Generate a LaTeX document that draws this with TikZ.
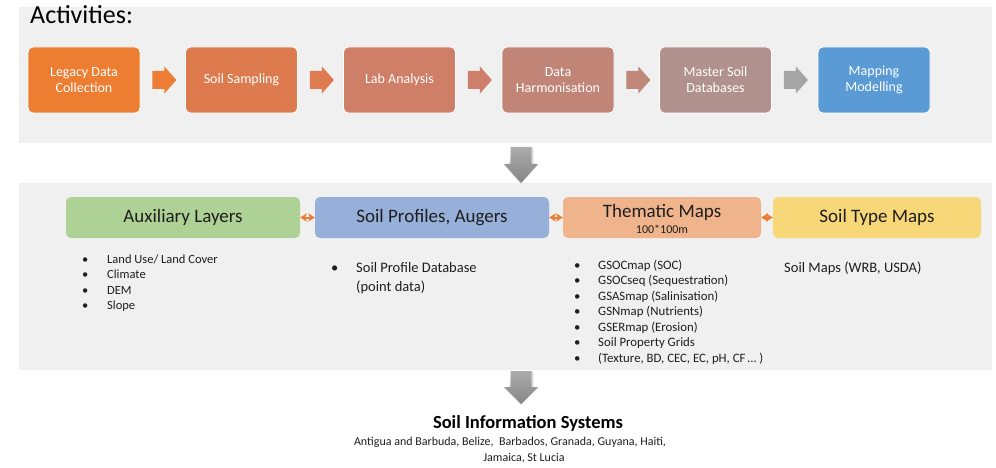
\documentclass[tikz,border=0pt]{standalone}
\usepackage{fontspec}
\setmainfont{Carlito}
\usetikzlibrary{calc,arrows.meta}
\definecolor{band}{RGB}{240,240,240}
\definecolor{c1}{RGB}{237,125,49}
\definecolor{c2}{RGB}{222,123,78}
\definecolor{c3}{RGB}{207,126,103}
\definecolor{c4}{RGB}{192,133,119}
\definecolor{c5}{RGB}{177,145,141}
\definecolor{c6}{RGB}{91,155,213}
\definecolor{a1}{RGB}{236,125,52}
\definecolor{a2}{RGB}{222,123,80}
\definecolor{a3}{RGB}{206,127,107}
\definecolor{a4}{RGB}{190,135,122}
\definecolor{a5}{RGB}{165,165,165}
\definecolor{auxc}{RGB}{174,209,150}
\definecolor{profc}{RGB}{151,176,218}
\definecolor{themc}{RGB}{240,180,141}
\definecolor{typec}{RGB}{248,215,120}
\definecolor{txt}{RGB}{30,30,30}
\definecolor{conc}{RGB}{237,125,49}
\newcommand\blockarrow[2]{\fill[#2] ($(#1.east)+(12,-9)$) -- ++(12,0) -- ++(0,-4.5) -- ++(12,13.5) -- ++(-12,13.5) -- ++(0,-4.5) -- ++(-12,0) -- cycle;}
\newcommand\grayarrow[3]{%
  \fill[black,opacity=0.12] ($(#1)+(-8.5,1)$) -- ++(21,0) -- ++(0,#2) -- ++(4.5,0) -- ++(-17,#3) -- ++(-17,-#3) -- ++(4.5,0) -- cycle;
  \shade[top color={rgb,255:red,172;green,172;blue,172},bottom color={rgb,255:red,132;green,132;blue,132}] ($(#1)+(-10.5,0)$) -- ++(21,0) -- ++(0,#2) -- ++(6.5,0) -- ++(-17,#3) -- ++(-17,-#3) -- ++(6.5,0) -- cycle;}
\tikzset{
  topbox/.style={rounded corners=5pt, draw=white, line width=0.8pt, minimum width=112pt, minimum height=66pt, text=white, align=center, font=\fontsize{14}{16}\selectfont, inner sep=0pt},
  midbox/.style={rounded corners=5pt, minimum height=41pt, text=txt, align=center, font=\fontsize{19}{21}\selectfont, inner sep=0pt},
  conn/.style={draw=conc, line width=2pt, {Stealth[length=6.5pt,width=8pt,inset=1.5pt]}-{Stealth[length=6.5pt,width=8pt,inset=1.5pt]}},
  listitem/.style={anchor=base west, inner sep=0pt, text=txt},
}
\begin{document}
\begin{tikzpicture}[x=1pt,y=-1pt]
\useasboundingbox (0,0) rectangle (996,468);
\fill[white] (0,0) rectangle (996,468);
% bands
\fill[band] (19,7) rectangle (992,143);
\fill[band] (19,183) rectangle (992,370);
\node[anchor=base west, inner sep=0pt, font=\fontsize{26}{30}\selectfont, text=black] (title) at (30,24) {Activities:};
% top row
\node[topbox, fill=c1] (b1) at (84,80) {Legacy Data\\Collection};
\node[topbox, fill=c2] (b2) at (241.5,80) {Soil Sampling};
\node[topbox, fill=c3] (b3) at (399.5,80) {Lab Analysis};
\node[topbox, fill=c4] (b4) at (558,80) {Data\\Harmonisation};
\node[topbox, fill=c5] (b5) at (715.5,80) {Master Soil\\Databases};
\node[topbox, fill=c6] (b6) at (874,80) {Mapping\\Modelling};
\blockarrow{b1}{a1}
\blockarrow{b2}{a2}
\blockarrow{b3}{a3}
\blockarrow{b4}{a4}
\blockarrow{b5}{a5}
% down arrows
\coordinate (d1) at (521,147);
\grayarrow{d1}{17}{19}
\coordinate (d2) at (521,371);
\grayarrow{d2}{16}{17}
% middle row
\node[midbox, fill=auxc, minimum width=234pt] (aux) at (183,217.5) {Auxiliary Layers};
\node[midbox, fill=profc, minimum width=234pt] (prof) at (432,217.5) {Soil Profiles, Augers};
\node[midbox, fill=themc, minimum width=198pt] (them) at (662,217.5) {};
\node[inner sep=0pt, anchor=base, font=\fontsize{19}{21}\selectfont, text=txt] (themt) at (662,217) {Thematic Maps};
\node[inner sep=0pt, anchor=base, font=\fontsize{12}{14}\selectfont, text=txt] (thems) at (662,233) {100*100m};
\node[midbox, fill=typec, minimum width=208pt] (type) at (877,217.5) {Soil Type Maps};
\draw[conn] (aux.east) -- (prof.west);
\draw[conn] (prof.east) -- (them.west);
\draw[conn] (them.east) -- (type.west);
% lists
\begin{scope}[font=\fontsize{12.5}{15}\selectfont]
\foreach \t [count=\i] in {Land Use/ Land Cover, Climate, DEM, Slope}{
  \node[listitem] (auxb\i) at (82,{263+15.6*(\i-1)}) {•};
  \node[listitem] (auxl\i) at (107,{263+15.6*(\i-1)}) {\t};
}
\end{scope}
\begin{scope}[font=\fontsize{14.5}{17}\selectfont]
\node[listitem] (profb1) at (331,272.5) {•};
\node[listitem] (profl1) at (356,272.5) {Soil Profile Database};
\node[listitem] (profl2) at (356,291.5) {(point data)};
\node[listitem] (typel1) at (784,272.5) {Soil Maps (WRB, USDA)};
\end{scope}
\begin{scope}[font=\fontsize{12.8}{15}\selectfont]
\foreach \t [count=\i] in {GSOCmap (SOC), GSOCseq (Sequestration), GSASmap (Salinisation), GSNmap (Nutrients), GSERmap (Erosion), Soil Property Grids, {(Texture, BD, CEC, EC, pH, CF\,… )}}{
  \node[listitem] (themb\i) at (574,{269+15.5*(\i-1)}) {•};
  \node[listitem] (theml\i) at (598,{269+15.5*(\i-1)}) {\t};
}
\end{scope}
% bottom
\node[anchor=base, inner sep=0pt, font=\bfseries\fontsize{18.5}{22}\selectfont, text=black] (sis) at (528,428) {Soil Information Systems};
\node[anchor=base, inner sep=0pt, font=\fontsize{12}{14}\selectfont, text=txt] (cty1) at (510,445) {Antigua and Barbuda, Belize,\ \ Barbados, Granada, Guyana, Haiti,};
\node[anchor=base, inner sep=0pt, font=\fontsize{12}{14}\selectfont, text=txt] (cty2) at (524,461) {Jamaica, St Lucia};
\end{tikzpicture}
\end{document}
